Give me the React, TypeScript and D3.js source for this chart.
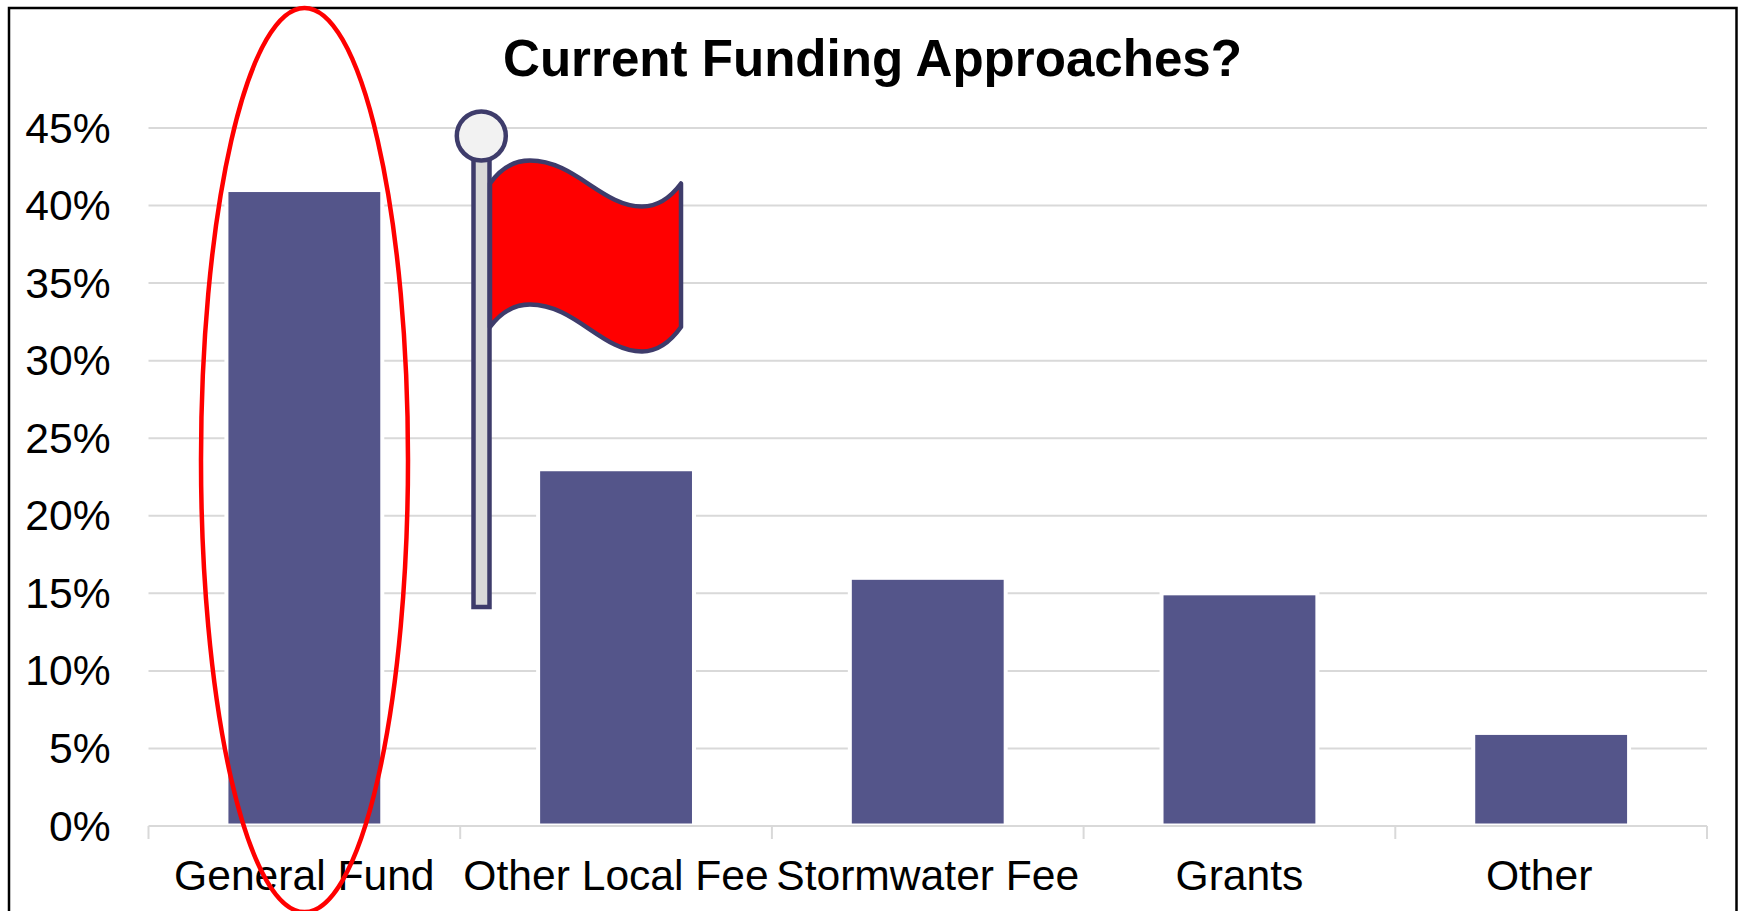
import React from "react";
import * as d3 from "d3";

const categories = ["General Fund", "Other Local Fee", "Stormwater Fee", "Grants", "Other"];
const shares = [41, 23, 16, 15, 6];
const yTicks = [0, 5, 10, 15, 20, 25, 30, 35, 40, 45];
const titleText = "Current Funding Approaches?";

const W = 1739;
const H = 911;
const left = 148.5;
const right = 1707;
const y0 = 826;
const y45 = 128;
const barColor = "#54558a";
const gridColor = "#d9d9d9";
const flagStroke = "#3e3c6b";
const font = "'Liberation Sans', Arial, sans-serif";

const x = d3.scaleBand<string>().domain(categories).range([left, right]).paddingInner(0.5).paddingOuter(0.25);
const y = d3.scaleLinear().domain([0, 45]).range([y0, y45]);
const boundaries = d3.range(categories.length + 1).map((i) => left + (i * (right - left)) / categories.length);

function wave(x0: number) {
  const p = d3.path();
  p.moveTo(x0, 183.5);
  p.bezierCurveTo(x0 + 11, 168, x0 + 25, 160.5, x0 + 40, 160.5);
  p.bezierCurveTo(x0 + 85, 160.5, x0 + 112, 206.5, x0 + 152, 206.5);
  p.bezierCurveTo(x0 + 168, 206.5, x0 + 181, 197, x0 + 191, 183.5);
  p.lineTo(x0 + 191, 327);
  p.bezierCurveTo(x0 + 181, 341, x0 + 168, 351.5, x0 + 152, 351.5);
  p.bezierCurveTo(x0 + 112, 351.5, x0 + 85, 304.5, x0 + 40, 304.5);
  p.bezierCurveTo(x0 + 25, 304.5, x0 + 11, 312, x0, 327);
  p.closePath();
  return p.toString();
}

export default function App() {
  return (
    <svg
      width={W}
      height={H}
      viewBox={`0 0 ${W} ${H}`}
      style={{ position: "absolute", left: 0, top: 0, display: "block", background: "#fff" }}
    >
      <rect x={9} y={8} width={1727.5} height={H + 20} fill="#fff" stroke="#000" strokeWidth={2.5} />
      <text x={872.5} y={76} textAnchor="middle" fontFamily={font} fontWeight="bold" fontSize={51.1} fill="#000">
        {titleText}
      </text>

      {yTicks.map((t) => (
        <g key={t}>
          {t > 0 && <line x1={left} x2={right} y1={y(t)} y2={y(t)} stroke={gridColor} strokeWidth={2} />}
          <text x={110.5} y={y(t) + 14.5} textAnchor="end" fontFamily={font} fontSize={42.6} fill="#000">
            {t}%
          </text>
        </g>
      ))}

      {categories.map((c, i) => (
        <g key={c}>
          <rect
            x={x(c)! - 2}
            y={y(shares[i]) - 2}
            width={x.bandwidth() + 4}
            height={y0 - y(shares[i]) + 2}
            fill="#fff"
          />
          <rect
            x={x(c)! + 2}
            y={y(shares[i]) + 2}
            width={x.bandwidth() - 4}
            height={y0 - y(shares[i]) - 4.5}
            fill={barColor}
          />
        </g>
      ))}

      <line x1={left} x2={right} y1={y0} y2={y0} stroke={gridColor} strokeWidth={2} />
      {boundaries.map((b) => (
        <line key={b} x1={b} x2={b} y1={y0} y2={y0 + 13} stroke={gridColor} strokeWidth={2} />
      ))}

      {categories.map((c) => (
        <text
          key={c}
          x={x(c)! + x.bandwidth() / 2 + (c === "Other" ? -12 : 0)}
          y={890}
          textAnchor="middle"
          fontFamily={font}
          fontSize={42.6}
          fill="#000"
        >
          {c}
        </text>
      ))}

      <rect x={473.5} y={150} width={16} height={457} fill="#d9d9d9" stroke={flagStroke} strokeWidth={4.5} />
      <path d={wave(490)} fill="#ff0000" stroke={flagStroke} strokeWidth={4.5} strokeLinejoin="round" />
      <circle cx={481.3} cy={136} r={24.5} fill="#f2f2f2" stroke={flagStroke} strokeWidth={4.5} />

      <ellipse cx={304.5} cy={460} rx={103.5} ry={452} fill="none" stroke="#ff0000" strokeWidth={4.5} />
    </svg>
  );
}
